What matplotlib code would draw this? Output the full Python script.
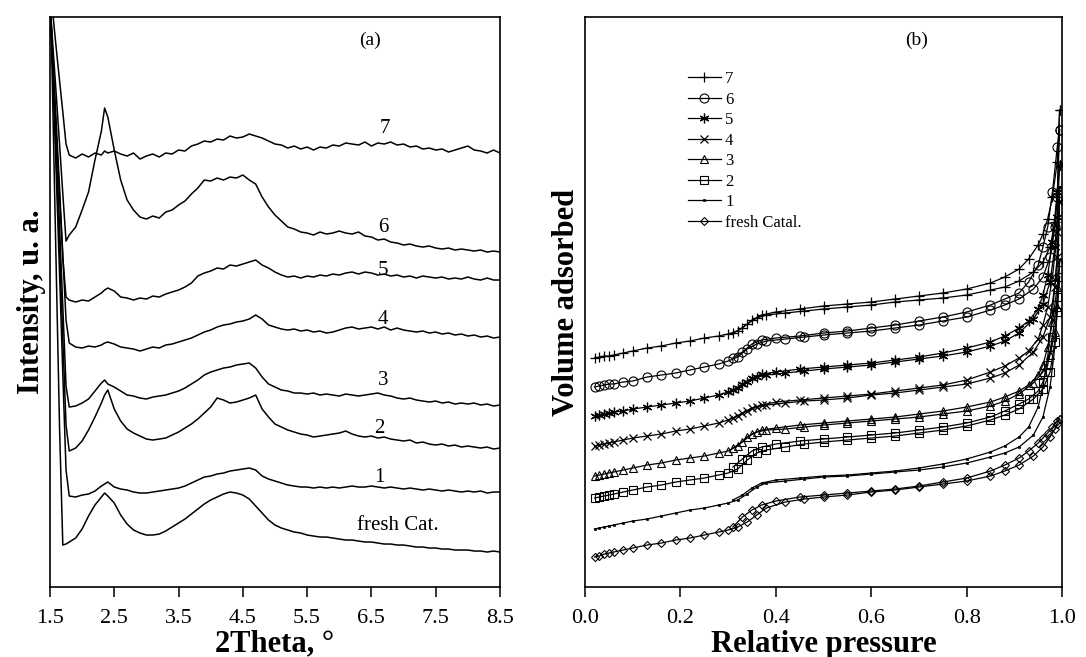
import matplotlib
matplotlib.use("Agg")
from matplotlib import pyplot as plt

plt.rcParams['font.family'] = ['Liberation Serif', 'DejaVu Serif']

# ---- panel (a): XRD patterns (intensity in arbitrary units, curves stacked) ----
two_theta = [1.5, 1.55, 1.6, 1.65, 1.7, 1.75,
             1.8, 1.9, 2.0, 2.1, 2.2, 2.3, 2.35, 2.4, 2.5, 2.6,
             2.7, 2.8, 2.9, 3.0, 3.1, 3.2, 3.3, 3.4, 3.5, 3.6,
             3.7, 3.8, 3.9, 4.0, 4.1, 4.2, 4.3, 4.4, 4.5, 4.6,
             4.7, 4.8, 4.9, 5.0, 5.1, 5.2, 5.3, 5.4, 5.5, 5.6,
             5.7, 5.8, 5.9, 6.0, 6.1, 6.2, 6.3, 6.4, 6.5, 6.6,
             6.7, 6.8, 6.9, 7.0, 7.1, 7.2, 7.3, 7.4, 7.5, 7.6,
             7.7, 7.8, 7.9, 8.0, 8.1, 8.2, 8.3, 8.4, 8.5]

xrd_7 = [600, 570, 537, 506, 475, 443,
         432, 429, 433, 430, 434, 432, 436, 434, 436, 433,
         431, 434, 428, 431, 433, 430, 434, 433, 437, 436,
         441, 443, 446, 445, 448, 447, 451, 449, 450, 453,
         451, 449, 446, 443, 442, 439, 441, 438, 440, 437,
         440, 439, 442, 441, 444, 443, 442, 445, 441, 444,
         443, 445, 442, 443, 440, 441, 438, 439, 437, 438,
         435, 437, 439, 441, 437, 436, 434, 437, 434]
xrd_6 = [585, 537, 490, 442, 393, 346,
         352, 360, 377, 395, 427, 456, 479, 470, 437, 407,
         387, 377, 370, 368, 371, 369, 375, 377, 382, 386,
         393, 399, 407, 406, 409, 407, 410, 409, 412, 407,
         403, 390, 380, 372, 366, 360, 358, 355, 354, 352,
         355, 353, 354, 356, 354, 353, 355, 351, 350, 347,
         348, 345, 344, 342, 343, 341, 340, 341, 339, 338,
         339, 337, 338, 337, 336, 337, 335, 336, 335]
xrd_5 = [575, 510, 450, 390, 329, 290,
         287, 285, 287, 286, 290, 294, 297, 299, 296, 290,
         289, 287, 289, 288, 291, 290, 293, 295, 297, 300,
         304, 311, 314, 316, 319, 318, 322, 321, 323, 325,
         327, 322, 319, 315, 312, 310, 311, 309, 311, 310,
         312, 311, 313, 312, 314, 315, 313, 315, 314, 312,
         313, 311, 312, 310, 311, 309, 311, 310, 309, 310,
         308, 309, 308, 310, 308, 307, 309, 307, 307]
xrd_4 = [575, 526, 462, 398, 332, 267,
         244, 240, 239, 241, 240, 242, 244, 245, 243, 240,
         239, 238, 236, 238, 240, 239, 242, 243, 245, 247,
         249, 252, 255, 257, 260, 262, 263, 265, 266, 268,
         272, 268, 262, 260, 258, 257, 258, 256, 257, 255,
         256, 254, 255, 257, 259, 260, 258, 259, 260, 258,
         260, 257, 259, 257, 256, 255, 256, 254, 255, 253,
         254, 252, 253, 251, 252, 250, 251, 249, 250]
xrd_3 = [590, 516, 438, 360, 280, 201,
         180, 181, 184, 188, 196, 204, 207, 203, 200, 196,
         192, 191, 189, 188, 190, 191, 192, 194, 196, 199,
         203, 207, 212, 215, 217, 219, 220, 222, 223, 224,
         219, 210, 203, 200, 197, 196, 194, 194, 193, 194,
         192, 193, 192, 191, 193, 192, 191, 192, 193, 194,
         192, 191, 189, 188, 189, 187, 186, 185, 186, 184,
         185, 183, 184, 183, 184, 182, 183, 181, 182]
xrd_2 = [600, 511, 424, 338, 249, 162,
         136, 139, 146, 157, 170, 184, 192, 197, 178, 166,
         158, 154, 151, 148, 147, 148, 149, 152, 155, 159,
         163, 168, 174, 180, 189, 187, 184, 185, 187, 189,
         192, 178, 170, 163, 160, 157, 155, 153, 152, 150,
         151, 152, 153, 154, 156, 153, 151, 150, 151, 149,
         150, 148, 147, 146, 147, 144, 145, 143, 142, 143,
         141, 142, 140, 141, 140, 139, 140, 138, 139]
xrd_1 = [600, 504, 408, 312, 213, 117,
         91, 90, 92, 93, 96, 101, 103, 105, 100, 98,
         97, 95, 94, 94, 95, 96, 97, 98, 99, 101,
         104, 107, 110, 111, 113, 114, 116, 117, 118, 119,
         117, 111, 108, 106, 104, 102, 101, 100, 100, 99,
         100, 99, 100, 99, 100, 101, 100, 100, 101, 100,
         99, 100, 99, 98, 99, 98, 97, 98, 97, 96,
         97, 96, 95, 96, 95, 96, 94, 95, 95]
xrd_fresh = [620, 464, 310, 157, 42, 43,
             45, 49, 58, 71, 82, 90, 94, 91, 84, 72,
             63, 57, 54, 52, 52, 53, 56, 60, 64, 68,
             73, 78, 83, 87, 90, 93, 95, 94, 92, 88,
             81, 74, 67, 62, 59, 57, 55, 54, 52, 51,
             50, 50, 49, 48, 47, 47, 46, 45, 45, 44,
             43, 43, 42, 42, 41, 40, 40, 39, 39, 38,
             38, 37, 37, 37, 36, 36, 35, 36, 35]

xrd_curves = [xrd_7, xrd_6, xrd_5, xrd_4, xrd_3, xrd_2, xrd_1, xrd_fresh]
xrd_names = ["7", "6", "5", "4", "3", "2", "1", "fresh Cat."]
xrd_label_pos = [(6.71, 459), (6.68, 360), (6.68, 317), (6.68, 268),
                 (6.68, 207), (6.63, 159), (6.63, 110), (6.91, 62)]

# ---- panel (b): N2 isotherms (volume in arbitrary units, curves stacked) ----
p_ads = [0.02, 0.03, 0.04, 0.05, 0.06, 0.08, 0.1, 0.13, 0.16, 0.19, 0.22, 0.25,
         0.28, 0.3, 0.32, 0.34, 0.36, 0.38, 0.42, 0.46, 0.5, 0.55, 0.6, 0.65,
         0.7, 0.75, 0.8, 0.85, 0.88, 0.91, 0.94, 0.96, 0.975, 0.985, 0.99, 0.995]
p_des = [0.995, 0.99, 0.98, 0.97, 0.96, 0.95, 0.93, 0.91, 0.88, 0.85, 0.8, 0.75,
         0.7, 0.65, 0.6, 0.55, 0.5, 0.45, 0.4, 0.37, 0.35, 0.33, 0.31]

ads_7 = [229, 230, 231, 231, 232, 234, 236, 239, 241, 244, 246, 249,
         251, 253, 256, 263, 269, 272, 274, 276, 278, 280, 282, 285,
         287, 289, 292, 297, 300, 306, 315, 325, 340, 365, 390, 477]
des_7 = [477, 425, 390, 368, 353, 342, 328, 318, 310, 304, 298, 294,
         291, 288, 285, 283, 281, 278, 275, 272, 267, 259, 254]
ads_6 = [200, 201, 202, 203, 203, 205, 206, 210, 212, 214, 217, 220,
         223, 226, 230, 238, 243, 246, 248, 250, 252, 254, 256, 259,
         262, 266, 270, 277, 282, 288, 298, 310, 330, 360, 390, 457]
des_6 = [457, 440, 395, 360, 340, 322, 305, 294, 288, 282, 275, 270,
         266, 262, 259, 256, 254, 251, 249, 247, 243, 235, 229]
ads_5 = [171, 172, 173, 174, 175, 176, 178, 180, 182, 184, 186, 189,
         192, 195, 199, 205, 210, 212, 214, 216, 218, 220, 222, 225,
         228, 231, 235, 241, 246, 254, 268, 283, 305, 340, 370, 422]
des_5 = [422, 395, 345, 312, 292, 278, 266, 259, 251, 245, 239, 234,
         230, 227, 224, 222, 220, 218, 215, 213, 209, 203, 197]
ads_4 = [141, 142, 143, 144, 145, 147, 149, 151, 153, 156, 158, 161,
         164, 167, 171, 176, 180, 182, 184, 186, 187, 189, 192, 194,
         197, 200, 203, 209, 214, 222, 235, 250, 270, 300, 330, 385]
des_4 = [385, 355, 310, 280, 262, 248, 236, 229, 221, 215, 207, 202,
         199, 196, 193, 191, 189, 187, 185, 182, 179, 174, 169]
ads_3 = [111, 112, 113, 114, 115, 117, 119, 122, 124, 127, 129, 131,
         134, 136, 141, 150, 155, 157, 158, 160, 162, 164, 166, 168,
         170, 173, 176, 181, 186, 193, 204, 215, 232, 255, 280, 325]
des_3 = [325, 300, 265, 240, 222, 212, 202, 196, 190, 185, 180, 176,
         173, 170, 168, 166, 164, 162, 159, 157, 153, 145, 139]
ads_2 = [89, 90, 91, 92, 93, 95, 97, 100, 102, 105, 107, 109,
         112, 114, 118, 127, 134, 137, 140, 143, 145, 147, 149, 151,
         154, 157, 161, 167, 172, 178, 188, 198, 215, 245, 275, 310]
des_2 = [310, 290, 250, 222, 205, 196, 188, 183, 176, 170, 164, 160,
         157, 154, 152, 150, 148, 146, 143, 140, 136, 128, 120]
ads_1 = [58, 59, 60, 61, 62, 64, 66, 68, 71, 74, 77, 79,
         82, 84, 87, 93, 100, 104, 106, 108, 110, 111, 113, 115,
         117, 120, 124, 130, 134, 140, 152, 170, 200, 240, 280, 400]
des_1 = [400, 330, 275, 230, 200, 180, 160, 150, 141, 135, 128, 123,
         119, 116, 114, 112, 111, 109, 107, 104, 99, 92, 87]
ads_fresh = [30, 31, 33, 34, 35, 37, 39, 42, 44, 47, 49, 52,
             55, 57, 60, 65, 72, 79, 85, 88, 90, 92, 95, 97,
             100, 103, 106, 111, 116, 122, 131, 140, 150, 158, 163, 168]
des_fresh = [168, 166, 160, 154, 149, 144, 136, 129, 122, 116, 109, 105,
             101, 98, 96, 94, 92, 90, 86, 82, 77, 70, 60]

iso_ads = [ads_7, ads_6, ads_5, ads_4, ads_3, ads_2, ads_1, ads_fresh]
iso_des = [des_7, des_6, des_5, des_4, des_3, des_2, des_1, des_fresh]
iso_names = ["7", "6", "5", "4", "3", "2", "1", "fresh Catal."]
iso_markers = [dict(marker='+', ms=7, mew=0.9),
               dict(marker='o', ms=6.5, mfc='none', mew=0.8),
               dict(marker=(6, 2, 0), ms=7, mew=0.9),
               dict(marker='x', ms=5.5, mew=0.9),
               dict(marker='^', ms=6, mfc='none', mew=0.8),
               dict(marker='s', ms=6, mfc='none', mew=0.8),
               dict(marker='s', ms=2, mfc='k', mew=0.5),
               dict(marker='D', ms=4, mfc='none', mew=0.8)]

fig = plt.figure(figsize=(10.86, 6.57), dpi=100)
ax1 = fig.add_axes([0.046, 0.1065, 0.4144, 0.8676])
ax2 = fig.add_axes([0.5387, 0.1065, 0.4392, 0.8676])

for yv in xrd_curves:
    ax1.plot(two_theta, yv, color='k', lw=1.1)
for name, (tx, ty) in zip(xrd_names, xrd_label_pos):
    ax1.text(tx, ty, name, ha='center', va='center', fontsize=15)
ax1.text(6.48, 547, "(a)", ha='center', va='center', fontsize=14)

ax1.set_xlim(1.5, 8.5)
ax1.set_ylim(0, 570)
ax1.set_xticks([1.5, 2.5, 3.5, 4.5, 5.5, 6.5, 7.5, 8.5])
ax1.set_xticklabels(["1.5", "2.5", "3.5", "4.5", "5.5", "6.5", "7.5", "8.5"])
ax1.set_yticks([])
ax1.set_xlabel("2Theta, °", fontsize=22, fontweight='bold', labelpad=1)
ax1.set_ylabel("Intensity, u. a.", fontsize=22, fontweight='bold', labelpad=3)

for ya, yd, mk, name in zip(iso_ads, iso_des, iso_markers, iso_names):
    ax2.plot(p_ads, ya, color='k', lw=0.9, label=name, **mk)
    ax2.plot(p_des, yd, color='k', lw=0.9, **mk)
ax2.text(0.696, 547, "(b)", ha='center', va='center', fontsize=14)

ax2.set_xlim(0.0, 1.0)
ax2.set_ylim(0, 570)
ax2.set_xticks([0.0, 0.2, 0.4, 0.6, 0.8, 1.0])
ax2.set_xticklabels(["0.0", "0.2", "0.4", "0.6", "0.8", "1.0"])
ax2.set_yticks([])
ax2.set_xlabel("Relative pressure", fontsize=22, fontweight='bold', labelpad=1)
ax2.set_ylabel("Volume adsorbed", fontsize=22, fontweight='bold', labelpad=3)

ax2.legend(loc='upper left', bbox_to_anchor=(0.215, 0.905), frameon=False,
           fontsize=12, handlelength=2.0, handletextpad=0.25,
           labelspacing=0.27, borderpad=0, borderaxespad=0)

for ax in (ax1, ax2):
    for sp in ax.spines.values():
        sp.set_linewidth(1.2)
    ax.tick_params(axis='x', direction='out', length=7, width=1.1, pad=9,
                   labelsize=16)

fig.savefig("out.png", dpi=100)
